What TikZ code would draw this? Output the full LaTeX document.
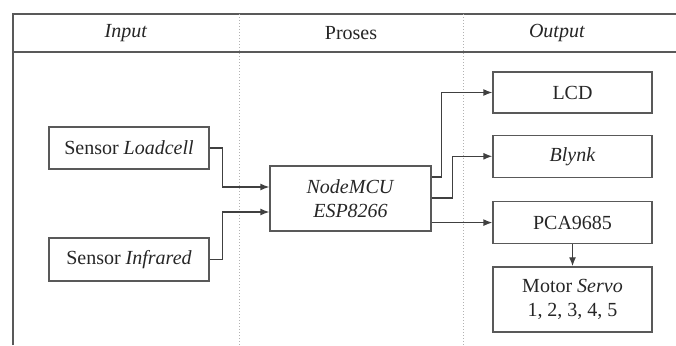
\documentclass[tikz,border=0pt]{standalone}
\usepackage{fontspec}
\setmainfont{Liberation Serif}
\usetikzlibrary{arrows.meta, positioning}
\tikzset{
    block style/.style={draw=black!65, line width=1.3pt, rectangle, minimum width=160pt, minimum height=42pt, text centered, align=center, inner sep=0pt, font=\fontsize{20}{24}\selectfont, text=black!85},
    head style/.style={font=\fontsize{20}{24}\selectfont, text=black!85},
    arrow style/.style={-{Latex[length=9pt,width=7pt]}, line width=1.3pt, draw=black!75},
    frame style/.style={line width=1.8pt, draw=black!65},
    divider style/.style={draw=black!30, line width=1pt, dotted},
}

\begin{document}
\begin{tikzpicture}[x=1pt, y=-1pt]
        \useasboundingbox (0,0) rectangle (676,345);
        % table
        \draw[frame style] (13,345) -- (13,14) -- (676,14);
        \draw[frame style] (13,52) -- (676,52);
        \draw[divider style] (239,14) -- (239,345);
        \draw[divider style] (463,14) -- (463,345);
        \node (hinput) [head style] at (126,33) {\textit{Input}};
        \node (hproses) [head style] at (351,33) {Proses};
        \node (houtput) [head style] at (557,33) {\textit{Output}};

        % blocks
        \node (loadcell) [block style] at (129,148) {Sensor \textit{Loadcell}};
        \node (infrared) [block style, minimum height=43pt] at (129,259.5) {Sensor \textit{Infrared}};
        \node (mcu) [block style, minimum width=161pt, minimum height=65pt] at (350.5,198.5) {\textit{NodeMCU}\\\textit{ESP8266}};
        \node (lcd) [block style, minimum width=159pt, minimum height=41pt] at (572.5,92.5) {LCD};
        \node (blynk) [block style, minimum width=159pt, below=21pt of lcd] {\textit{Blynk}};
        \node (pca) [block style, minimum width=159pt, below=23pt of blynk] {PCA9685};
        \node (servo) [block style, minimum width=159pt, minimum height=65pt, below=22pt of pca] {Motor \textit{Servo}\\1, 2, 3, 4, 5};

        \draw [arrow style] (loadcell.east) -- ++(13,0) |- ([yshift=11.5pt]mcu.west);
        \draw [arrow style] (infrared.east) -- ++(13,0) |- ([yshift=-13.5pt]mcu.west);
        \draw [arrow style] ([yshift=21.5pt]mcu.east) -- ++(10,0) |- (lcd.west);
        \draw [arrow style] ([yshift=0.5pt]mcu.east) -- ++(21,0) |- (blynk.west);
        \draw [arrow style] (pca.west -| mcu.east) -- (pca.west);
        \draw [arrow style] (pca.south) -- (servo.north);
    \end{tikzpicture}
\end{document}
